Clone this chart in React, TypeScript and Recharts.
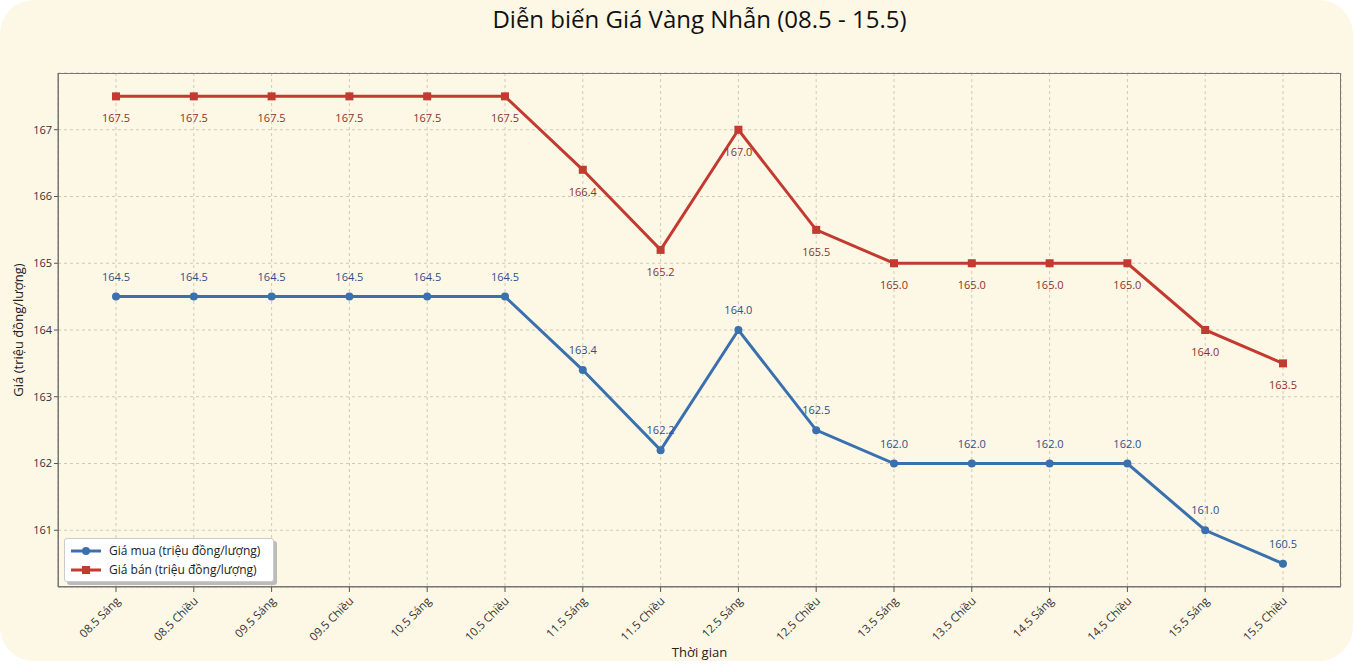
import { CartesianGrid, Line, LineChart, XAxis, YAxis } from 'recharts'

const sessions = [
  '08.5 Sáng', '08.5 Chiều', '09.5 Sáng', '09.5 Chiều', '10.5 Sáng', '10.5 Chiều',
  '11.5 Sáng', '11.5 Chiều', '12.5 Sáng', '12.5 Chiều', '13.5 Sáng', '13.5 Chiều',
  '14.5 Sáng', '14.5 Chiều', '15.5 Sáng', '15.5 Chiều',
]
const buyPrices = [164.5, 164.5, 164.5, 164.5, 164.5, 164.5, 163.4, 162.2, 164.0, 162.5, 162.0, 162.0, 162.0, 162.0, 161.0, 160.5]
const sellPrices = [167.5, 167.5, 167.5, 167.5, 167.5, 167.5, 166.4, 165.2, 167.0, 165.5, 165.0, 165.0, 165.0, 165.0, 164.0, 163.5]
const yTicks = [161, 162, 163, 164, 165, 166, 167]

const BLUE = '#3a70ae'
const RED = '#c23a30'
const FONT = '"Open Sans", sans-serif'
const BG = '#fdf7e6'

const data = sessions.map((s, i) => ({ session: s, buy: buyPrices[i], sell: sellPrices[i] }))

const XTick = (props: any) => {
  const { x, y, payload } = props
  return (
    <g transform={`translate(${x + 2},${y + 5})`}>
      <text transform="rotate(-45)" textAnchor="end" dy={4} fontSize={11.5} fill="#333" fontFamily={FONT}>
        {payload.value}
      </text>
    </g>
  )
}

const CircleDot = (props: any) => {
  const { cx, cy, index } = props
  return <circle key={index} cx={cx} cy={cy} r={4} fill={BLUE} />
}

const SquareDot = (props: any) => {
  const { cx, cy, index } = props
  return <rect key={index} x={cx - 4} y={cy - 4} width={8} height={8} fill={RED} />
}

const buyLabel = (props: any) => {
  const { x, y, value, index } = props
  return (
    <text key={index} x={x} y={y - 16} textAnchor="middle" fontSize={11} fill="#2d4f8c" fontFamily={FONT}>
      {Number(value).toFixed(1)}
    </text>
  )
}

const sellLabel = (props: any) => {
  const { x, y, value, index } = props
  return (
    <text key={index} x={x} y={y + 26} textAnchor="middle" fontSize={11} fill="#8c3328" fontFamily={FONT}>
      {Number(value).toFixed(1)}
    </text>
  )
}

export default function App() {
  return (
    <div style={{ position: 'fixed', left: 0, top: 0, width: 1356, height: 668, background: '#fff', fontFamily: FONT }}>
      <div style={{ position: 'absolute', left: 0, top: 0, width: 1353, height: 661, borderRadius: 34, background: BG }} />
      <div
        style={{
          position: 'absolute', left: 58, width: 1283, top: 2, textAlign: 'center',
          fontSize: 24, color: '#111',
        }}
      >
        Diễn biến Giá Vàng Nhẫn (08.5 - 15.5)
      </div>
      <div style={{ position: 'absolute', left: 0, top: 0 }}>
        <LineChart width={1356} height={668} data={data} margin={{ top: 73, right: 15, left: 0, bottom: 0 }}>
          <CartesianGrid stroke="#cfcab8" strokeDasharray="3 3" />
          <XAxis
            dataKey="session"
            height={81}
            padding={{ left: 58, right: 58 }}
            interval={0}
            tick={<XTick />}
            tickSize={5}
            tickLine={{ stroke: '#555' }}
            axisLine={{ stroke: '#777' }}
            label={{ value: 'Thời gian', position: 'insideBottom', offset: 11, fontSize: 13, fill: '#222', fontFamily: FONT }}
          />
          <YAxis
            width={58}
            domain={[160.15, 167.85]}
            ticks={yTicks}
            allowDataOverflow
            tickSize={4}
            tick={{ fontSize: 11, fill: '#333', fontFamily: FONT }}
            tickLine={{ stroke: '#555' }}
            axisLine={{ stroke: '#777' }}
            label={{
              value: 'Giá (triệu đồng/lượng)', angle: -90, position: 'insideLeft', offset: 18,
              style: { textAnchor: 'middle' }, fontSize: 13, fill: '#222', fontFamily: FONT,
            }}
          />
          <Line
            dataKey="buy"
            stroke={BLUE}
            strokeWidth={3}
            dot={<CircleDot />}
            activeDot={false}
            label={buyLabel}
            isAnimationActive={false}
          />
          <Line
            dataKey="sell"
            stroke={RED}
            strokeWidth={3}
            dot={<SquareDot />}
            activeDot={false}
            label={sellLabel}
            isAnimationActive={false}
          />
        </LineChart>
      </div>
      <div
        style={{
          position: 'absolute', left: 58, top: 73, width: 1283, height: 514,
          border: '1px solid #777', boxSizing: 'border-box', pointerEvents: 'none',
        }}
      />
      <div
        style={{
          position: 'absolute', left: 64, top: 538, width: 194, padding: '2px 8px 2px 6px',
          background: '#fff', border: '1px solid #ccc', borderRadius: 3,
          boxShadow: '3px 3px 0 #bbb', fontSize: 12, color: '#222',
        }}
      >
        {[
          { name: 'Giá mua (triệu đồng/lượng)', color: BLUE, square: false },
          { name: 'Giá bán (triệu đồng/lượng)', color: RED, square: true },
        ].map((item) => (
          <div key={item.name} style={{ display: 'flex', alignItems: 'center', height: 19 }}>
            <svg width={30} height={10} style={{ marginRight: 8 }}>
              <line x1={0} y1={5} x2={30} y2={5} stroke={item.color} strokeWidth={3} />
              {item.square ? (
                <rect x={11} y={1} width={8} height={8} fill={item.color} />
              ) : (
                <circle cx={15} cy={5} r={4} fill={item.color} />
              )}
            </svg>
            <span>{item.name}</span>
          </div>
        ))}
      </div>
    </div>
  )
}
